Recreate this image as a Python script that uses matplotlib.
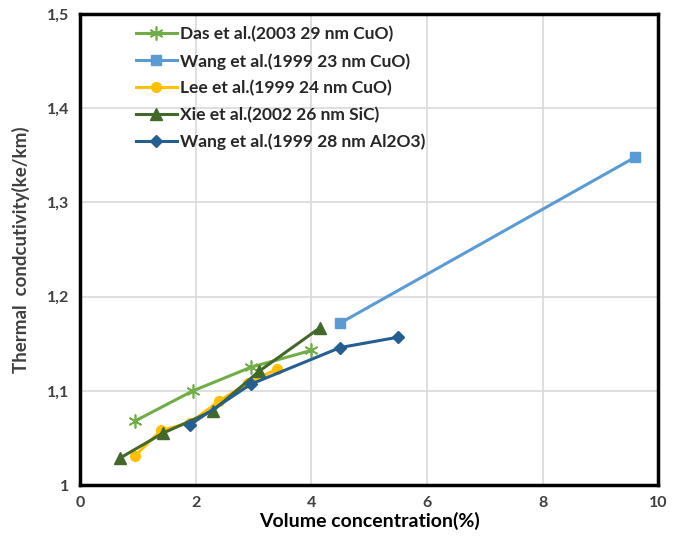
import matplotlib
matplotlib.use("Agg")
import matplotlib.pyplot as plt
from matplotlib.ticker import FuncFormatter

plt.rcParams['font.family'] = ['Lato', 'DejaVu Sans']

# Das et al. (2003, 29 nm CuO)
das_x = [0.95, 1.95, 2.95, 4.0]
das_y = [1.068, 1.100, 1.125, 1.143]

# Wang et al. (1999, 23 nm CuO)
wang_cuo_x = [4.5, 9.6]
wang_cuo_y = [1.172, 1.348]

# Lee et al. (1999, 24 nm CuO)
lee_x = [0.95, 1.4, 1.9, 2.4, 2.9, 3.4]
lee_y = [1.031, 1.058, 1.066, 1.089, 1.108, 1.123]

# Xie et al. (2002, 26 nm SiC)
xie_x = [0.7, 1.43, 2.3, 3.1, 4.15]
xie_y = [1.029, 1.055, 1.079, 1.121, 1.167]

# Wang et al. (1999, 28 nm Al2O3)
wang_al_x = [1.9, 2.95, 4.5, 5.5]
wang_al_y = [1.064, 1.107, 1.146, 1.157]

fig = plt.figure(figsize=(6.81, 5.42), dpi=100)
ax = fig.add_axes([0.1175, 0.105, 0.849, 0.869])

ax.plot(das_x, das_y, color='#70AD47', lw=2.2, marker=(6, 2, 0), ms=10,
        mew=1.2, label='Das et al.(2003 29 nm CuO)')
ax.plot(wang_cuo_x, wang_cuo_y, color='#5B9BD5', lw=2.2, marker='s', ms=7,
        label='Wang et al.(1999 23 nm CuO)')
ax.plot(lee_x, lee_y, color='#FFC000', lw=2.2, marker='o', ms=7,
        label='Lee et al.(1999 24 nm CuO)')
ax.plot(xie_x, xie_y, color='#43682B', lw=2.2, marker='^', ms=8,
        label='Xie et al.(2002 26 nm SiC)')
ax.plot(wang_al_x, wang_al_y, color='#255E91', lw=2.2, marker='D', ms=6.5,
        label='Wang et al.(1999 28 nm Al2O3)')

ax.set_xlim(0, 10)
ax.set_ylim(1, 1.5)
ax.set_xticks([0, 2, 4, 6, 8, 10])
ax.set_yticks([1, 1.1, 1.2, 1.3, 1.4, 1.5])
ax.yaxis.set_major_formatter(FuncFormatter(
    lambda v, p: '1' if abs(v - 1) < 1e-9 else f'{v:.1f}'.replace('.', ',')))
ax.grid(True, color='#d9d9d9', lw=1.2)
ax.set_axisbelow(True)
ax.tick_params(length=0, labelsize=11.5, pad=8)
for lab in ax.get_xticklabels() + ax.get_yticklabels():
    lab.set_fontweight('bold')
    lab.set_color('#404040')

for s in ax.spines.values():
    s.set_linewidth(2.5)
    s.set_color('black')

ax.set_xlabel('Volume concentration(%)', fontsize=14, fontweight='bold', labelpad=1)
ax.set_ylabel('Thermal  condcutivity(ke/km)', fontsize=13.5, fontweight='bold',
              color='#404040', labelpad=12)

leg = ax.legend(loc='upper left', bbox_to_anchor=(0.075, 1.0), frameon=False,
                fontsize=12.5, handlelength=2.4, handletextpad=0.15,
                labelspacing=0.6, borderaxespad=0.3)
for t in leg.get_texts():
    t.set_fontweight('bold')
    t.set_color('#262626')

fig.savefig('out.png', dpi=100)
